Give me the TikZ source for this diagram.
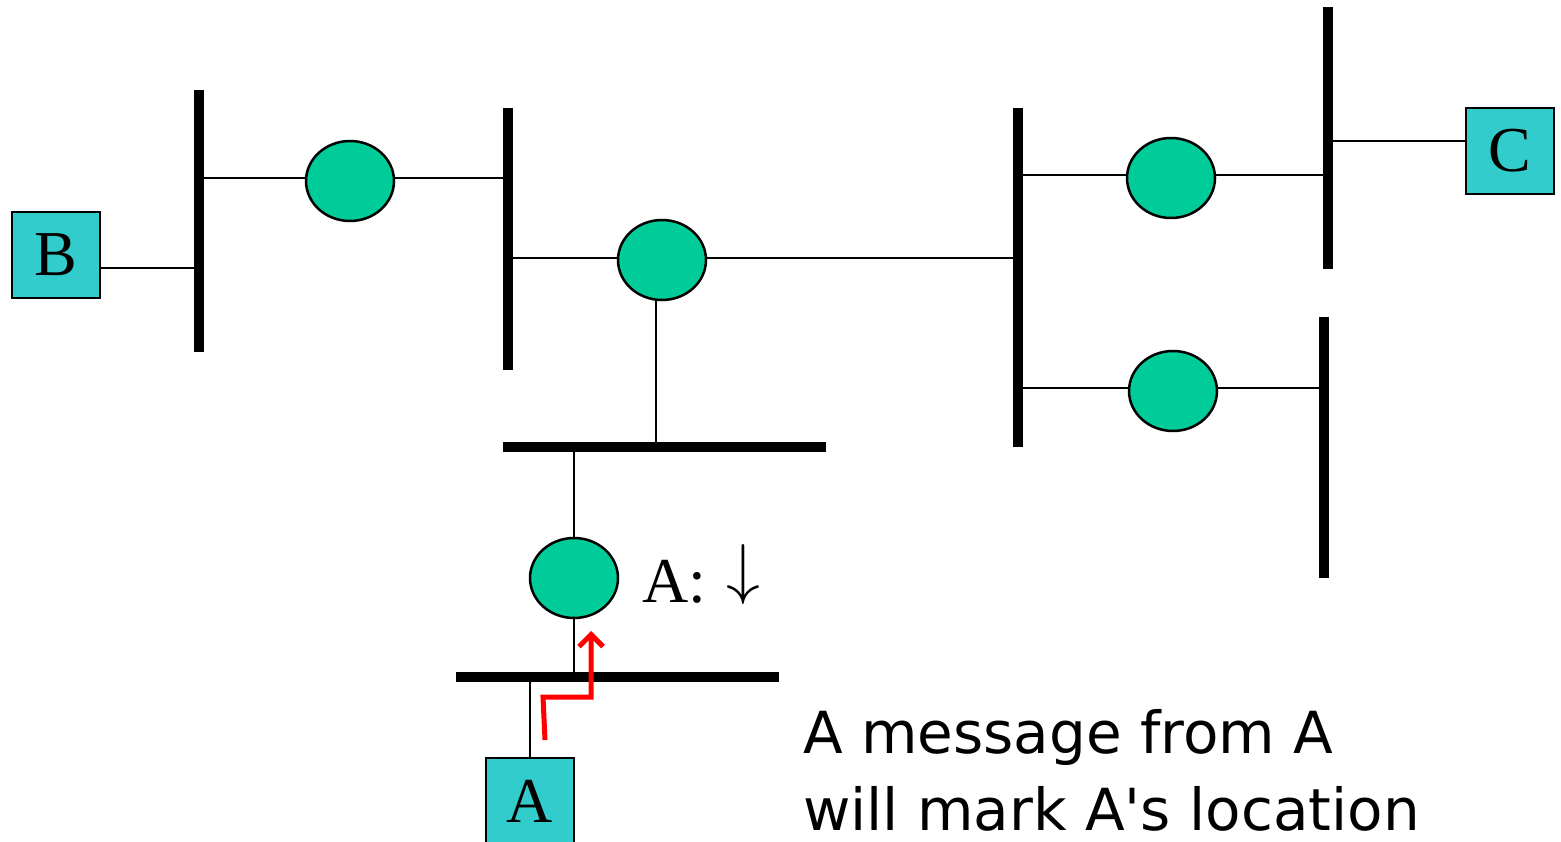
\documentclass[tikz,border=0pt]{standalone}
\usepackage{fontspec}
\setmainfont{Liberation Serif}
\newfontfamily\hostfont{Liberation Serif}
\newfontfamily\notefont{DejaVu Sans}
\usetikzlibrary{shapes.geometric,arrows.meta}
\definecolor{ellfill}{RGB}{0,204,153}
\definecolor{boxfill}{RGB}{51,204,204}
\tikzset{
  bus/.style={line width=10pt,line cap=butt},
  wire/.style={line width=2pt},
  bridge/.style={ellipse,draw,line width=2.5pt,fill=ellfill,minimum width=88pt,minimum height=80pt,inner sep=0pt},
  host/.style={draw,line width=2.5pt,fill=boxfill,minimum width=88pt,minimum height=86pt,inner sep=0pt,font=\hostfont\fontsize{64}{70}\selectfont},
  msg/.style={draw=red,line width=5pt,-{Straight Barb[length=12pt,width=24pt]}}
}
\begin{document}
\begin{tikzpicture}[x=1pt,y=-1pt]
\useasboundingbox (0,0) rectangle (1561,842);
% bus bars
\coordinate (v1t) at (199,90);   \coordinate (v1b) at (199,352);
\coordinate (v2t) at (508,108);  \coordinate (v2b) at (508,370);
\coordinate (v3t) at (1018,108); \coordinate (v3b) at (1018,447);
\coordinate (v4t) at (1328,7);   \coordinate (v4b) at (1328,269);
\coordinate (v5t) at (1324,317); \coordinate (v5b) at (1324,578);
\coordinate (h1l) at (503,447);  \coordinate (h1r) at (826,447);
\coordinate (h2l) at (456,677);  \coordinate (h2r) at (779,677);
% bridges
\node[bridge] (e1) at (350,181) {};
\node[bridge] (e2) at (662,260) {};
\node[bridge] (e3) at (1171,178) {};
\node[bridge] (e4) at (1173,391) {};
\node[bridge] (e5) at (574,578) {};
% hosts
\node[host] (B) at (56,255) {B};
\node[host] (C) at (1510,151) {C};
\node[host] (A) at (530,801) {A};
% wires
\coordinate (bw) at (101,268);
\draw[wire] (bw) -- (bw -| v1t);
\coordinate (e1w) at (e1.west|-0,178); \coordinate (e1e) at (e1.east|-0,178);
\draw[wire] (e1w) -- (e1w -| v1t);
\draw[wire] (e1e) -- (e1e -| v2t);
\coordinate (e2w) at (e2.west|-0,258); \coordinate (e2e) at (e2.east|-0,258);
\draw[wire] (e2w) -- (e2w -| v2t);
\draw[wire] (e2e) -- (e2e -| v3t);
\coordinate (e2s) at (656,300);
\draw[wire] (e2s) -- (e2s |- h1l);
\coordinate (e3w) at (e3.west|-0,175); \coordinate (e3e) at (e3.east|-0,175);
\draw[wire] (e3w) -- (e3w -| v3t);
\draw[wire] (e3e) -- (e3e -| v4t);
\coordinate (cw) at (1466,141);
\draw[wire] (cw) -- (cw -| v4t);
\coordinate (e4w) at (e4.west|-0,388); \coordinate (e4e) at (e4.east|-0,388);
\draw[wire] (e4w) -- (e4w -| v3t);
\draw[wire] (e4e) -- (e4e -| v5t);
\draw[wire] (e5.north) -- (e5.north |- h1l);
\draw[wire] (e5.south) -- (e5.south |- h2l);
\draw[wire] (A.north) -- (A.north |- h2l);
% bars on top
\draw[bus] (v1t) -- (v1b);
\draw[bus] (v2t) -- (v2b);
\draw[bus] (v3t) -- (v3b);
\draw[bus] (v4t) -- (v4b);
\draw[bus] (v5t) -- (v5b);
\draw[bus] (h1l) -- (h1r);
\draw[bus] (h2l) -- (h2r);
% message path
\coordinate (m0) at (545,740);
\coordinate (m1) at (543,697);
\coordinate (m2) at (591,697);
\coordinate (m3) at (591,631);
\draw[msg,line join=miter] (m0) -- (m1) -- (m2) -- (m3);
% labels
\node[anchor=base west,inner sep=0pt,font=\hostfont\fontsize{64}{70}\selectfont] (lbl) at (642,602) {A:\hspace{20pt}\raisebox{11pt}{\scalebox{2.72}{$\downarrow$}}};
\node[anchor=base west,inner sep=0pt,align=left,font=\notefont\fontsize{58}{77}\selectfont] (note) at (803,830) {A message from A\\will mark A's location};
\end{tikzpicture}
\end{document}
